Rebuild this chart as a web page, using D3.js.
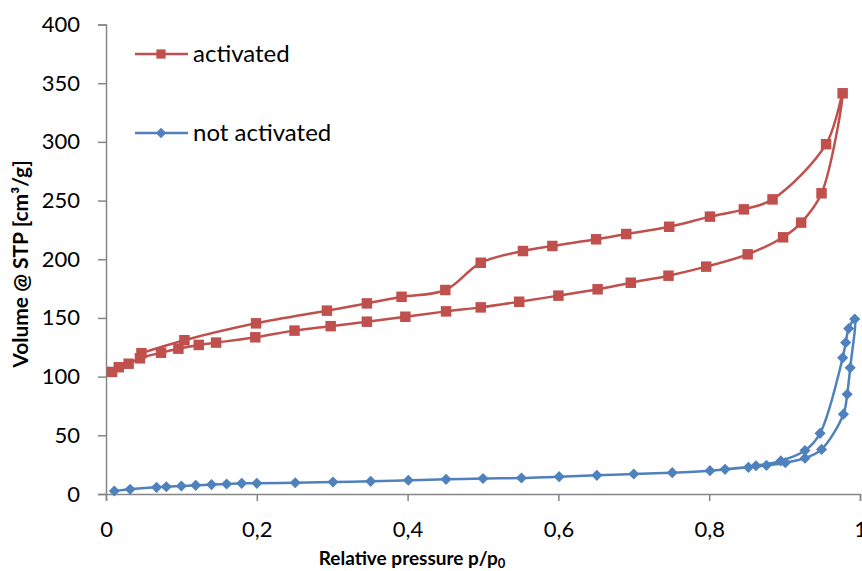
<!DOCTYPE html>
<html>
<head>
<meta charset="utf-8">
<script src="https://cdn.jsdelivr.net/npm/d3@7"></script>
<style>
  body { margin: 0; background: #fff; }
  text { font-family: Lato, "Open Sans", sans-serif; }
</style>
</head>
<body>
<svg id="chart" width="862" height="571"></svg>
<script>
// activated sample: adsorption branch (p/p0, volume)
var actAdsP = [0.008, 0.017, 0.03, 0.045, 0.073, 0.096, 0.123, 0.146, 0.198, 0.25, 0.298, 0.346, 0.397, 0.451, 0.497,
               0.548, 0.6, 0.652, 0.696, 0.746, 0.796, 0.851, 0.898, 0.922, 0.949, 0.977];
var actAdsV = [104, 108, 111, 115.6, 120.4, 123.8, 127, 129, 133.5, 139.2, 143, 146.8, 151, 155.6, 159,
               163.8, 169, 174.4, 180, 186, 193.7, 204.2, 218.7, 231.2, 256.2, 341.4];
// activated sample: desorption branch
var actDesP = [0.955, 0.884, 0.846, 0.801, 0.747, 0.69, 0.65, 0.592, 0.553, 0.497, 0.45, 0.392, 0.346, 0.293, 0.199, 0.104, 0.047];
var actDesV = [298, 251, 242.5, 236.3, 227.7, 221.5, 217, 211.3, 207, 197, 173.8, 168, 162.4, 156.2, 145.4, 131, 120];

// not activated sample
var notAdsP = [0.011, 0.032, 0.067, 0.08, 0.1, 0.119, 0.14, 0.16, 0.18, 0.2, 0.251, 0.301, 0.351, 0.401, 0.451, 0.5,
               0.551, 0.601, 0.651, 0.7, 0.751, 0.801, 0.852, 0.876, 0.901, 0.927, 0.949, 0.978, 0.983, 0.987, 0.993];
var notAdsV = [2.6, 4, 5.7, 6.2, 6.8, 7.4, 8, 8.5, 9.1, 9.1, 9.6, 10.2, 10.8, 11.7, 12.5, 13.2,
               13.6, 14.8, 15.9, 17, 18.2, 19.9, 22.7, 24.4, 26.7, 30.5, 38, 68, 85, 107.6, 149];
var notDesP = [0.985, 0.981, 0.977, 0.947, 0.927, 0.895, 0.862, 0.821];
var notDesV = [141, 129, 116, 51.7, 37, 28.2, 24.1, 21];

var xTicks = [0, 0.2, 0.4, 0.6, 0.8, 1];
var yTicks = [0, 50, 100, 150, 200, 250, 300, 350, 400];

var margin = {top: 24.5, right: 2, bottom: 77, left: 106};
const width = 862 - margin.left - margin.right;
const height = 571 - margin.top - margin.bottom;

var svg = d3.select('#chart')
    .append("g")
    .attr("transform", `translate(${margin.left},${margin.top})`);

const xScale = d3.scaleLinear().domain([0, 1]).range([0, width]);
const yScale = d3.scaleLinear().domain([0, 400]).range([height, 0]);

function pts(ps, vs) {
    return ps.map(function(p, i) { return [p, vs[i]]; });
}

var series = [
    {name: "activated", color: "#C0504D", marker: "square",
     data: pts(actAdsP, actAdsV).concat(pts(actDesP, actDesV))},
    {name: "not activated", color: "#4F81BD", marker: "diamond",
     data: pts(notAdsP, notAdsV).concat(pts(notDesP, notDesV))}
];

// axes
var axisColor = "#868686";
var yAxis = svg.append("g")
    .call(d3.axisLeft(yScale).tickValues(yTicks).tickSize(8).tickPadding(18)
        .tickFormat(d3.format("d")));
var xAxis = svg.append("g")
    .attr("transform", "translate(0," + height + ")")
    .call(d3.axisBottom(xScale).tickValues(xTicks).tickSize(7).tickPadding(20)
        .tickFormat(function(d) { return String(d).replace(".", ","); }));

[xAxis, yAxis].forEach(function(a) {
    a.select(".domain").attr("stroke", axisColor).attr("stroke-width", 1.5);
    a.selectAll(".tick line").attr("stroke", axisColor).attr("stroke-width", 1.5);
    a.selectAll(".tick text").attr("fill", "#000").style("font-size", "22px");
});

// lines
var line = d3.line()
    .x(function(d) { return xScale(d[0]); })
    .y(function(d) { return yScale(d[1]); })
    .curve(d3.curveCatmullRom.alpha(0.5));

var squareSym = d3.symbol(d3.symbolSquare, 110);
var diamondSym = d3.symbol(d3.symbolSquare, 62);

series.forEach(function(s) {
    svg.append("path")
        .attr("d", line(s.data))
        .attr("fill", "none")
        .attr("stroke", s.color)
        .attr("stroke-width", 2.5);

    svg.selectAll(".m-" + s.marker)
        .data(s.data)
        .enter().append("path")
        .attr("class", "m-" + s.marker)
        .attr("d", s.marker == "square" ? squareSym : diamondSym)
        .attr("transform", function(d) {
            return "translate(" + xScale(d[0]) + "," + yScale(d[1]) + ")" +
                (s.marker == "diamond" ? " rotate(45)" : "");
        })
        .attr("fill", s.color);
});

// legend
var legend = d3.select('#chart').append("g");
var legendY = [54, 133];
series.forEach(function(s, i) {
    var g = legend.append("g").attr("transform", "translate(0," + legendY[i] + ")");
    g.append("line")
        .attr("x1", 135).attr("x2", 188)
        .attr("stroke", s.color).attr("stroke-width", 2.5);
    g.append("path")
        .attr("d", s.marker == "square" ? d3.symbol(d3.symbolSquare, 85)() : d3.symbol(d3.symbolSquare, 55)())
        .attr("transform", "translate(161,0)" + (s.marker == "diamond" ? " rotate(45)" : ""))
        .attr("fill", s.color);
    g.append("text")
        .attr("x", 193)
        .attr("dy", "0.35em")
        .style("font-size", "24px")
        .text(s.name);
});

// axis titles
var xTitle = d3.select('#chart').append("text")
    .attr("x", 412)
    .attr("y", 565)
    .attr("text-anchor", "middle")
    .style("font-size", "19px")
    .style("font-weight", "bold");
xTitle.append("tspan").text("Relative pressure p/p");
xTitle.append("tspan").attr("dy", 3).style("font-size", "13px").text("0");

d3.select('#chart').append("text")
    .attr("transform", "translate(28,264) rotate(-90)")
    .attr("text-anchor", "middle")
    .style("font-size", "21px")
    .style("font-weight", "bold")
    .text("Volume @ STP [cm³/g]");
</script>
</body>
</html>
